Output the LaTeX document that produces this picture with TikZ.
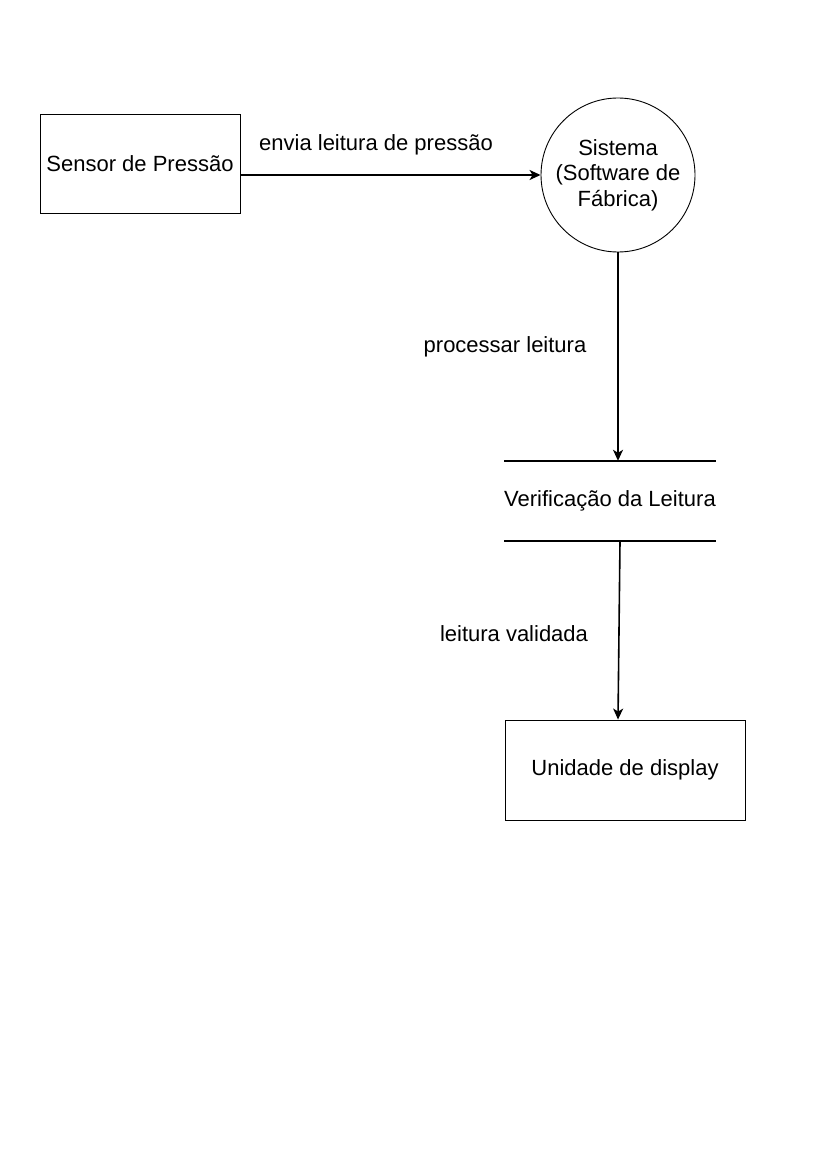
\documentclass[tikz,border=0pt]{standalone}
\usepackage{fontspec}
\setmainfont{Liberation Sans}
\usetikzlibrary{arrows.meta, positioning}

\begin{document}
\begin{tikzpicture}[
            x = 1pt, y = -1pt,
            > = {Stealth[length = 11pt, width = 10pt, inset = 3pt]}, % arrow head style
            flow/.style = {->, line width = 1.6pt}, % data flow
            every node/.style = {font = \fontsize{22}{25.5}\selectfont},
            entity/.style = {draw = black, line width = 0.9pt, minimum width = 200pt, minimum height = 99pt},
            process/.style = {draw = black, line width = 0.9pt, circle, minimum size = 154pt, align = center, inner sep = 0pt},
            storebox/.style = {minimum width = 210pt, minimum height = 80pt, inner xsep = 0pt}
        ]

        \useasboundingbox (0,0) rectangle (827,1169);

        \node[entity] (sensor) at (140,163.5) {Sensor de Pressão};
        \node[process] (sys) at (618,175) {Sistema\\(Software de\\Fábrica)};
        \node[storebox] (store) at (610,501) {Verificação da Leitura};
        \node[entity, minimum width = 240pt, minimum height = 100pt] (disp) at (625,770) {Unidade de display};

        % data store lines
        \draw[line width = 1.6pt] (store.north west) -- (store.north east);
        \draw[line width = 1.6pt] (store.south west) -- (store.south east);

        \draw[flow] (sensor.east |- sys.west) -- (sys.west);
        \draw[flow] (sys.south) -- (store.north -| sys.south);
        \draw[flow] ([xshift=10pt]store.south) -- ([xshift=-7pt]disp.north);

        \node (l1) at (376,145) {envia leitura de pressão};
        \node (l2) at (505,347) {processar leitura};
        \node (l3) at (514,634) {leitura validada};

  \end{tikzpicture}
\end{document}
